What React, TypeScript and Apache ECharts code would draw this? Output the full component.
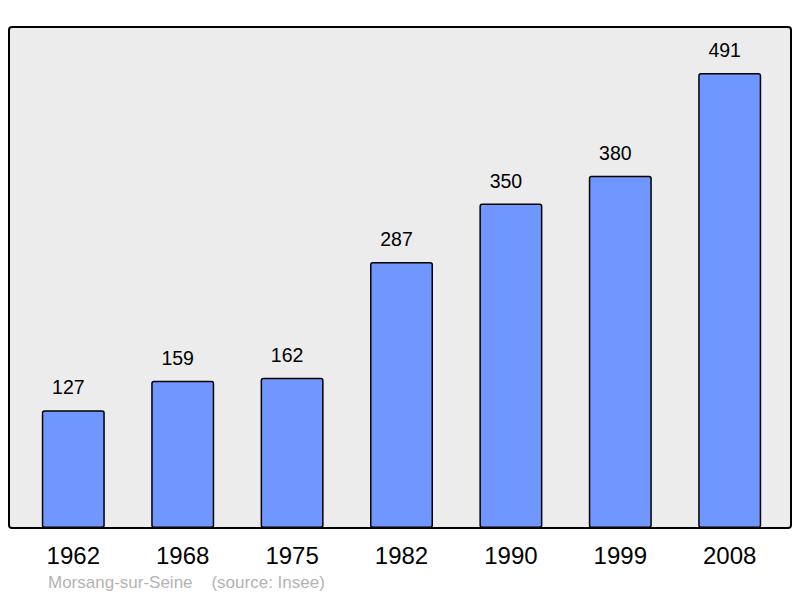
import React, { useEffect, useRef } from "react";
import * as echarts from "echarts";

const years = ["1962", "1968", "1975", "1982", "1990", "1999", "2008"];
const population = [127, 159, 162, 287, 350, 380, 491];
const caption = "Morsang-sur-Seine    (source: Insee)";

export default function App() {
  const ref = useRef<HTMLDivElement>(null);
  useEffect(() => {
    if (!ref.current) return;
    const chart = echarts.init(ref.current, null, { renderer: "svg" });
    const font = "Liberation Sans, Arial, sans-serif";
    chart.setOption({
      animation: false,
      backgroundColor: "#ffffff",
      textStyle: { fontFamily: font },
      graphic: [
        {
          type: "rect",
          z: -10,
          shape: { x: 9, y: 27, width: 782, height: 501, r: 3 },
          style: { fill: "#ececec", stroke: "#000000", lineWidth: 2 },
        },
        {
          type: "text",
          left: 48,
          top: 574,
          style: {
            text: caption,
            fill: "#b3b3b3",
            font: `17px ${font}`,
          },
        },
      ],
      grid: { left: 18.6, right: 15.6, top: 64.6, bottom: 70 },
      xAxis: {
        type: "category",
        data: years,
        axisLine: { show: false },
        axisTick: { show: false },
        axisLabel: {
          color: "#000000",
          fontSize: 24,
          fontFamily: font,
          margin: 15,
        },
      },
      yAxis: {
        type: "value",
        min: 0,
        max: 500,
        show: false,
        splitLine: { show: false },
      },
      series: [
        {
          type: "bar",
          data: population,
          barWidth: 63,
          itemStyle: {
            color: "#7096ff",
            borderColor: "#000000",
            borderWidth: 1.5,
            borderRadius: 2,
          },
          label: {
            show: true,
            position: "top",
            distance: 13,
            offset: [-5, 0],
            color: "#000000",
            fontSize: 19.5,
            fontFamily: font,
          },
        },
      ],
    });
    return () => chart.dispose();
  }, []);
  return (
    <div
      ref={ref}
      style={{ position: "fixed", left: 0, top: 0, width: 800, height: 598 }}
    />
  );
}
